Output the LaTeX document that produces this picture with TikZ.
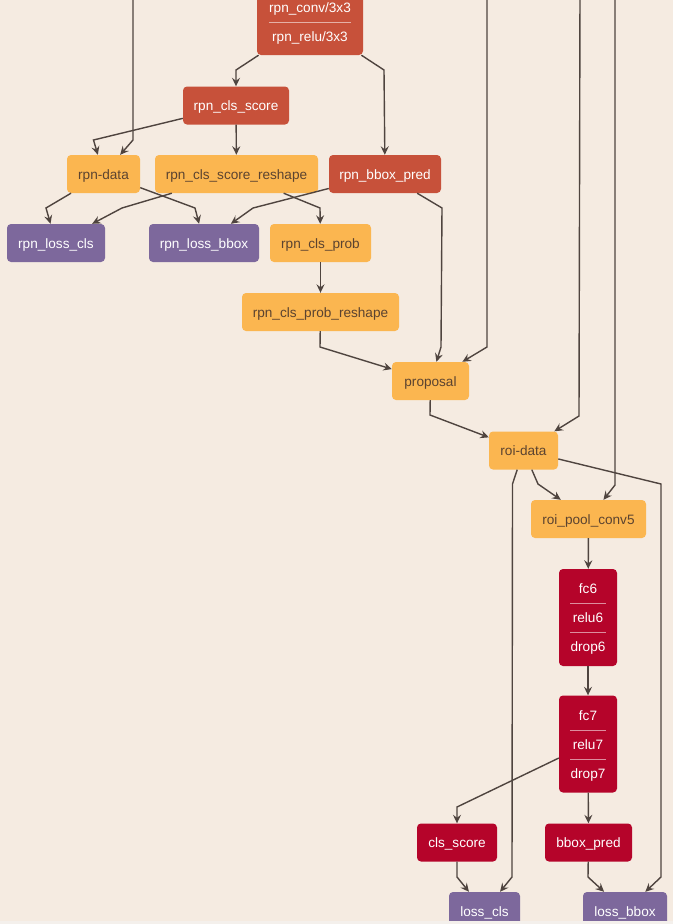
\documentclass[tikz,border=0pt]{standalone}
\usepackage{fontspec}
\setmainfont{Liberation Sans}
\usetikzlibrary{arrows.meta}

\definecolor{bgc}{HTML}{F5EBE1}
\definecolor{stripc}{HTML}{F4F0EC}
\definecolor{orangec}{HTML}{FBB650}
\definecolor{orangetext}{HTML}{5B4330}
\definecolor{brickc}{HTML}{C7513A}
\definecolor{crimsonc}{HTML}{B5042A}
\definecolor{violetc}{HTML}{7D689C}
\definecolor{edgec}{HTML}{4F443F}

\newcommand\lblfont{\fontsize{13.6}{16}\selectfont}

\tikzset{
  box/.style={rectangle, rounded corners=4pt, minimum height=38pt, inner sep=0pt,
    font=\lblfont, text height=10.4pt, text depth=0pt},
  orangebox/.style={box, fill=orangec, text=orangetext},
  brickbox/.style={box, fill=brickc, text=white},
  crimsonbox/.style={box, fill=crimsonc, text=white},
  violetbox/.style={box, fill=violetc, text=white},
  wlabel/.style={inner sep=0pt, font=\lblfont, text=white, text height=10.4pt, text depth=0pt},
  sepline/.style={draw=white, opacity=0.55, line width=0.8pt},
  edge/.style={draw=edgec, line width=1.4pt, -{Stealth[length=8.5pt, width=8pt, inset=3pt]}},
}

\begin{document}
\begin{tikzpicture}[x=1pt, y=-1pt]
\useasboundingbox (0,0) rectangle (673,924);
\fill[bgc] (0,0) rectangle (673,924);

\begin{scope}
\clip (0,0) rectangle (673,920.5);

% incoming connectors from layers above the visible part
\coordinate (inA) at (133,-10);
\coordinate (inB) at (487,-10);
\coordinate (inC) at (580,-10);
\coordinate (inD) at (615,-10);

% RPN head
\node[brickbox, minimum width=106pt, minimum height=67pt] (conv) at (310,21.5) {};
\node[wlabel] (conv-top) at (310,7) {rpn\_conv/3x3};
\node[wlabel] (conv-bot) at (310,36) {rpn\_relu/3x3};
\draw[sepline] (conv-top.west |- 0,22) -- (conv-top.east |- 0,22);

\node[brickbox, minimum width=106pt] (clsscore) at (236,105.5) {rpn\_cls\_score};
\node[orangebox, minimum width=73pt] (rpndata) at (103.5,174) {rpn-data};
\node[orangebox, minimum width=163pt] (reshape) at (236.5,174) {rpn\_cls\_score\_reshape};
\node[brickbox, minimum width=112pt] (bboxpred) at (385,174) {rpn\_bbox\_pred};
\node[violetbox, minimum width=98pt] (losscls) at (56,243) {rpn\_loss\_cls};
\node[violetbox, minimum width=110pt] (lossbbox) at (204,243) {rpn\_loss\_bbox};
\node[orangebox, minimum width=101pt] (clsprob) at (320.5,243) {rpn\_cls\_prob};
\node[orangebox, minimum width=157pt] (probreshape) at (320.5,312) {rpn\_cls\_prob\_reshape};
\node[orangebox, minimum width=77pt] (proposal) at (430.5,381) {proposal};
\node[orangebox, minimum width=69pt] (roidata) at (523.5,450.5) {roi-data};
\node[orangebox, minimum width=115pt] (roipool) at (588.5,519) {roi\_pool\_conv5};

% fully connected stacks
\node[crimsonbox, minimum width=58pt, minimum height=97pt] (fc6) at (588,617.5) {};
\node[wlabel] (fc6-a) at (588,588) {fc6};
\node[wlabel] (fc6-b) at (588,617) {relu6};
\node[wlabel] (fc6-c) at (588,646) {drop6};
\draw[sepline] (fc6-c.west |- 0,603) -- (fc6-c.east |- 0,603);
\draw[sepline] (fc6-c.west |- 0,632.5) -- (fc6-c.east |- 0,632.5);

\node[crimsonbox, minimum width=58pt, minimum height=97pt] (fc7) at (588,744) {};
\node[wlabel] (fc7-a) at (588,715) {fc7};
\node[wlabel] (fc7-b) at (588,744) {relu7};
\node[wlabel] (fc7-c) at (588,773) {drop7};
\draw[sepline] (fc7-c.west |- 0,730) -- (fc7-c.east |- 0,730);
\draw[sepline] (fc7-c.west |- 0,759.5) -- (fc7-c.east |- 0,759.5);

\node[crimsonbox, minimum width=80pt] (clsscoreB) at (457,842.5) {cls\_score};
\node[crimsonbox, minimum width=87pt] (bboxpredB) at (588.5,842.5) {bbox\_pred};
\node[violetbox, minimum width=71pt] (lossclsB) at (484.5,911) {loss\_cls};
\node[violetbox, minimum width=84pt] (lossbboxB) at (625,911) {loss\_bbox};

% connectors
\draw[edge] (inA) -- (133,140) -- (rpndata);
\draw[edge] (clsscore) -- (93.5,140) -- (rpndata);
\draw[edge] (conv) -- (236,70) -- (clsscore);
\draw[edge] (conv) -- (384,70) -- (bboxpred);
\draw[edge] (clsscore) -- (reshape);
\draw[edge] (rpndata) -- (46,208) -- (losscls);
\draw[edge] (rpndata) -- (195,208) -- (lossbbox);
\draw[edge] (reshape) -- (122,208) -- (losscls);
\draw[edge] (reshape) -- (320,208) -- (clsprob);
\draw[edge] (bboxpred) -- (253,208) -- (lossbbox);
\draw[edge] (bboxpred) -- (442,208) -- (441,347) -- (proposal);
\draw[edge] (inB) -- (487,347) -- (proposal);
\draw[edge] (clsprob) -- (probreshape);
\draw[edge] (probreshape) -- (320,347) -- (proposal);
\draw[edge] (proposal) -- (430,415) -- (roidata);
\draw[edge] (inC) -- (579,416) -- (roidata);
\draw[edge] (inD) -- (615,485) -- (roipool);
\draw[edge] (roidata) -- (538,484) -- (roipool);
\draw[edge] (roidata) -- (512.5,484) -- (512,877) -- (lossclsB);
\draw[edge] (roidata) -- (661,484) -- (661,877) -- (lossbboxB);
\draw[edge] (roipool) -- (fc6);
\draw[edge] (fc6) -- (fc7);
\draw[edge] (fc7) -- (457,807) -- (clsscoreB);
\draw[edge] (fc7) -- (bboxpredB);
\draw[edge] (clsscoreB) -- (457,877) -- (lossclsB);
\draw[edge] (bboxpredB) -- (588,877) -- (lossbboxB);
\end{scope}

\fill[stripc] (0,920.5) rectangle (673,924);
\end{tikzpicture}
\end{document}
